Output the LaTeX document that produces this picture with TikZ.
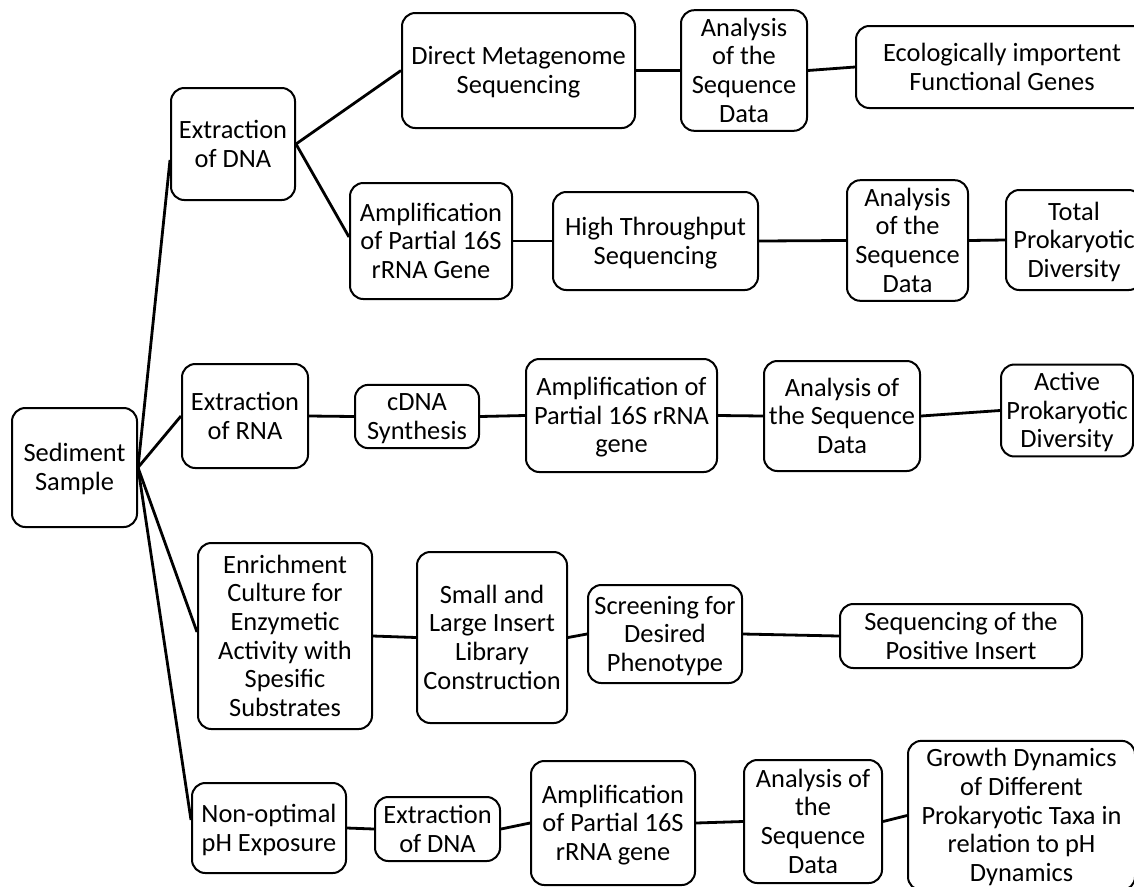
\documentclass[tikz,border=0pt]{standalone}
\usepackage{fontspec}
\setmainfont{Carlito}
\usetikzlibrary{calc}
\newcommand\bx[6]{%
  \node[box, minimum width={((#4)-(#2))*0.75pt}, minimum height={((#5)-(#3))*0.75pt}]
    (#1) at ({((#2)+(#4))/2},{((#3)+(#5))/2})
    {\begin{tabular}{@{}c@{}}\rule{0pt}{19.5pt}#6\end{tabular}};}
\begin{document}
\begin{tikzpicture}[x=0.75pt,y=-0.75pt,
  box/.style={draw, line width=1.5pt, rounded corners=10pt, inner sep=0pt,
    font=\fontsize{19.8}{21.5}\selectfont},
  link/.style={line width=2.1pt}]
\useasboundingbox (0,0) rectangle (1134,886);
\begin{scope}
\clip (0,0) rectangle (1134,886);
\bx{sed}{12}{408}{137}{527}{Sediment\\Sample}
% branch 1
\bx{ed1}{171}{88}{295}{200}{Extraction\\of DNA}
\bx{dms}{402}{13}{635}{128}{Direct Metagenome\\Sequencing}
\bx{an1}{681}{13}{807}{128}{Analysis\\of the\\Sequence\\Data}
\bx{eco}{856}{26}{1148}{108}{Ecologically importent\\Functional Genes}
\bx{amp1}{350}{183}{512}{299}{Amplification\\of Partial 16S\\rRNA Gene}
\bx{hts}{553}{192}{758}{290}{High Throughput\\Sequencing}
\bx{an2}{847}{183}{968}{298}{Analysis\\of the\\Sequence\\Data}
\bx{tot}{1006}{190}{1142}{290}{Total\\Prokaryotic\\Diversity}
% branch 2
\bx{ern}{182}{364}{308}{468}{Extraction\\of RNA}
\bx{cdna}{355}{385}{479}{448}{cDNA\\Synthesis}
\bx{amp2}{526}{359}{717}{472}{Amplification of\\Partial 16S rRNA\\gene}
\bx{an3}{764}{361}{920}{471}{Analysis of\\the Sequence\\Data}
\bx{act}{1001}{365}{1133}{456}{Active\\Prokaryotic\\Diversity}
% branch 3
\bx{enr}{198}{543}{372}{729}{Enrichment\\Culture for\\Enzymetic\\Activity with\\Spesific\\Substrates}
\bx{sml}{417}{552}{567}{723}{Small and\\Large Insert\\Library\\Construction}
\bx{scr}{588}{585}{742}{683}{Screening for\\Desired\\Phenotype}
\bx{seq}{840}{604}{1082}{668}{Sequencing of the\\Positive Insert}
% branch 4
\bx{non}{192}{783}{346}{873}{Non-optimal\\pH Exposure}
\bx{ed2}{375}{797}{500}{861}{Extraction\\of DNA}
\bx{amp3}{531}{761}{695}{885}{Amplification\\of Partial 16S\\rRNA gene}
\bx{an4}{744}{760}{882}{883}{Analysis of\\the\\Sequence\\Data}
\bx{gro}{908}{743}{1135}{888}{Growth Dynamics\\of Different\\Prokaryotic Taxa in\\relation to pH\\Dynamics}
\end{scope}
% connectors
\draw[link] (sed.east) -- ($(ed1.west)+(0,16)$);
\draw[link] (sed.east) -- (ern.west);
\draw[link] (sed.east) -- ($(enr.west)+(0,-4)$);
\draw[link] (sed.east) -- ($(non.west)+(0,-8)$);
\draw[link] (ed1.east) -- (dms.west);
\draw[link] (ed1.east) -- ($(amp1.west)+(0,-4)$);
\draw[link] (dms.east) -- (an1.west);
\draw[link] (an1.east) -- (eco.west);
\draw[link] (amp1.east) -- (hts.west);
\draw[link] (hts.east) -- (an2.west);
\draw[link] (an2.east) -- (tot.west);
\draw[link] (ern.east) -- (cdna.west);
\draw[link] (cdna.east) -- (amp2.west);
\draw[link] (amp2.east) -- (an3.west);
\draw[link] (an3.east) -- (act.west);
\draw[link] (enr.east) -- (sml.west);
\draw[link] (sml.east) -- (scr.west);
\draw[link] (scr.east) -- (seq.west);
\draw[link] (non.east) -- (ed2.west);
\draw[link] (ed2.east) -- (amp3.west);
\draw[link] (amp3.east) -- (an4.west);
\draw[link] (an4.east) -- (gro.west);
\end{tikzpicture}
\end{document}
